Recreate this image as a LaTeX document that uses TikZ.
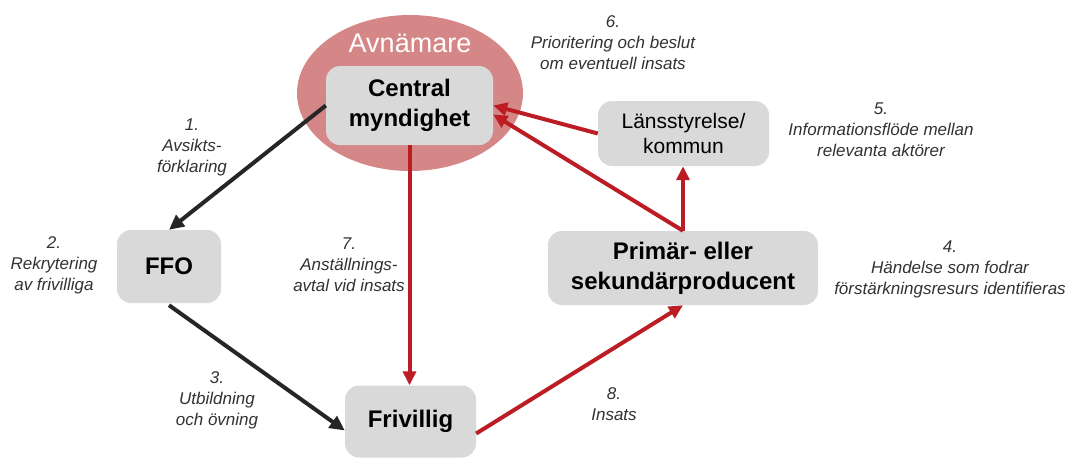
\documentclass[tikz,border=0pt]{standalone}
\usepackage{fontspec}
\setmainfont{Liberation Sans}
\usetikzlibrary{arrows.meta,calc}
\definecolor{arrred}{RGB}{188,28,36}
\definecolor{ellfill}{RGB}{213,135,135}
\definecolor{boxgray}{RGB}{217,217,217}
\definecolor{dark}{RGB}{38,38,38}
\definecolor{lbltext}{RGB}{50,50,50}
\tikzset{
  actor/.style={fill=boxgray,rounded corners=14pt,align=center,inner sep=0pt,text=black},
  boldtext/.style={font=\fontsize{24}{30}\selectfont\bfseries},
  plaintext/.style={font=\fontsize{21}{25}\selectfont},
  lbl/.style={font=\fontsize{17}{21}\selectfont\itshape,align=center,text=lbltext,inner sep=0pt},
  blackarr/.style={draw=dark,line width=4pt,-{Triangle[length=15pt,width=14pt]}},
  redarr/.style={draw=arrred,line width=4pt,-{Triangle[length=14pt,width=13pt]}},
}
\begin{document}
\begin{tikzpicture}[x=1pt,y=-1pt]
\useasboundingbox (0,0) rectangle (1069,459);
% avnamare ellipse
\fill[ellfill] (410,93) ellipse [x radius=113, y radius=78];
\node[font=\fontsize{27}{30}\selectfont,text=white] (avn) at (410,43) {Avnämare};
% boxes
\node[actor,boldtext,minimum width=167pt,minimum height=79pt] (central) at (409.5,105.5) {Central\\myndighet};
\node[actor,plaintext,minimum width=171pt,minimum height=65pt] (lans) at (683.5,133.5) {Länsstyrelse/\\kommun};
\node[actor,boldtext,minimum width=104pt,minimum height=73pt] (ffo) at (169,266.5) {FFO};
\node[actor,boldtext,minimum width=270pt,minimum height=74pt] (prim) at (683,268) {Primär- eller\\sekundärproducent};
\node[actor,boldtext,minimum width=131pt,minimum height=72pt] (friv) at (410.5,421.5) {Frivillig};
% connectors
\draw[blackarr] (central.west) -- (ffo.north);
\draw[blackarr] ($(ffo.south)+(0,2)$) -- ($(friv.west)+(0,9)$);
\draw[redarr] (central.south) -- (central.south |- friv.north);
\draw[redarr] ($(friv.east)+(0,12)$) -- (prim.south);
\draw[redarr] (prim.north) -- (prim.north |- lans.south);
\draw[redarr] (lans.west) -- (central.east);
\draw[redarr] (prim.north) -- ($(central.east)+(0,9)$);
% labels
\node[lbl] (l6) at (613,43) {6.\\Prioritering och beslut\\om eventuell insats};
\node[lbl] (l5) at (881,130) {5.\\Informationsflöde mellan\\relevanta aktörer};
\node[lbl] (l4) at (950,269) {4.\\Händelse som fodrar\\förstärkningsresurs identifieras};
\node[lbl] (l1) at (192,147) {1.\\Avsikts-\\förklaring};
\node[lbl] (l2) at (54,265) {2.\\Rekrytering\\av frivilliga};
\node[lbl] (l7) at (349,265) {7.\\Anställnings-\\avtal vid insats};
\node[lbl] (l3) at (217,400) {3.\\Utbildning\\och övning};
\node[lbl] (l8) at (614,404) {8.\\Insats};
\end{tikzpicture}
\end{document}
